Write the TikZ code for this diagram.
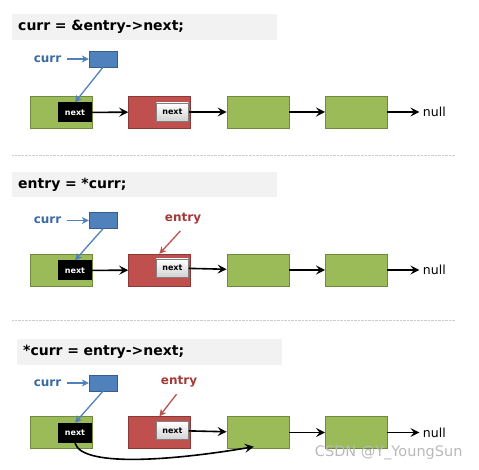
\documentclass[tikz,border=0pt]{standalone}
\usepackage{fontspec}
\setmainfont{DejaVu Sans}
\usetikzlibrary{positioning, arrows.meta}

\definecolor{cellgreen}{HTML}{9BBB59}
\definecolor{greenline}{HTML}{71893F}
\definecolor{cellred}{HTML}{C0504D}
\definecolor{redline}{HTML}{8C3836}
\definecolor{ptrblue}{HTML}{4F81BD}
\definecolor{blueline}{HTML}{385D8A}
\definecolor{currblue}{HTML}{3A6AA6}
\definecolor{entryred}{HTML}{A23A37}
\definecolor{titlegray}{HTML}{F2F2F2}

\begin{document}
\begin{tikzpicture}[
    x=1pt, y=-1pt,
    node distance=36pt,
    codeline/.style={fill=titlegray, anchor=west, minimum height=24pt, text width=253pt, inner sep=6pt, align=left, font=\bfseries\fontsize{14}{16}\selectfont},
    cell/.style={draw=greenline, fill=cellgreen, minimum width=62pt, minimum height=32pt, inner sep=0pt},
    redcell/.style={cell, draw=redline, fill=cellred},
    ptrbox/.style={draw=blueline, fill=ptrblue, minimum width=28pt, minimum height=16pt, inner sep=0pt},
    nextblack/.style={fill=black, text=white, anchor=east, minimum width=34pt, minimum height=20pt, inner sep=0pt, font=\bfseries\fontsize{8}{9}\selectfont},
    nextgray/.style={draw=gray, top color=white, bottom color=gray!35, anchor=east, minimum width=32pt, minimum height=18pt, inner sep=0pt, font=\bfseries\fontsize{8}{9}\selectfont},
    varname/.style={font=\bfseries\fontsize{12}{14}\selectfont},
    nullword/.style={font=\fontsize{12.5}{14}\selectfont, anchor=west},
    link/.style={-{Stealth[length=9pt, width=9pt, inset=3.5pt]}, line width=1.6pt, black},
    ptrarrow/.style={-{Stealth[length=7pt, width=7pt]}, line width=1.3pt, ptrblue},
    entryarrow/.style={-{Stealth[length=7pt, width=7pt]}, line width=1.3pt, cellred},
    separator/.style={densely dotted, gray!40}
]
\useasboundingbox (0,0) rectangle (479,470);

% ---- step 1 ----
\node[codeline] (t1) at (12,27) {curr = \&entry->next;};

\node[ptrbox] (p1) at (103,59) {};
\node[varname, text=currblue, left=24pt of p1] (v1) {curr};

\node[cell] (a1) at (61,112) {};
\node[redcell, right=of a1] (a2) {};
\node[cell, right=of a2] (a3) {};
\node[cell, right=of a3] (a4) {};
\node[nullword, right=32pt of a4] (z1) {null};
\node[nextblack] (a1n) at ([yshift=-0.5pt]a1.east) {next};
\node[nextgray] (a2n) at ([xshift=-2pt]a2.east) {next};

\draw[ptrarrow, shorten <=2pt] (v1) -- (p1);
\draw[ptrarrow] (p1.south) -- (a1n.north);
\draw[link] (a1n) -- (a2);
\draw[link] (a2n) -- (a3);
\draw[link] (a3) -- (a4);
\draw[link] (a4) -- (z1);

\coordinate (s1a) at (12,155);
\coordinate (s1b) at (455,155);
\draw[separator] (s1a) -- (s1b);

% ---- step 2 ----
\node[codeline] (t2) at (12,184.5) {entry = *curr;};

\node[ptrbox] (p2) at (103,220.5) {};
\node[varname, text=currblue, left=24pt of p2] (v2) {curr};
\node[varname, text=entryred] (e2) at (183,219) {entry};

\node[cell] (b1) at (61,270) {};
\node[redcell, right=of b1] (b2) {};
\node[cell, right=of b2] (b3) {};
\node[cell, right=of b3] (b4) {};
\node[nullword, right=32pt of b4] (z2) {null};
\node[nextblack] (b1n) at ([yshift=-0.5pt]b1.east) {next};
\node[nextgray] (b2n) at ([xshift=-2pt, yshift=2pt]b2.east) {next};

\draw[ptrarrow, shorten <=2pt] (v2) -- (p2);
\draw[ptrarrow] (p2.south) -- (b1n.north);
\draw[entryarrow, shorten <=4pt] (e2.south) -- (b2.north);
\draw[link] (b1n) -- (b2);
\draw[link] (b2n) -- (b3);
\draw[link] (b3) -- (b4);
\draw[link] (b4) -- (z2);

\coordinate (s2a) at (12,320);
\coordinate (s2b) at (455,320);
\draw[separator] (s2a) -- (s2b);

% ---- step 3 ----
\node[codeline] (t3) at (17,352) {*curr = entry->next;};

\node[ptrbox] (p3) at (103,383) {};
\node[varname, text=currblue, left=24pt of p3] (v3) {curr};
\node[varname, text=entryred] (e3) at (179,382) {entry};

\node[cell] (c1) at (61,432.5) {};
\node[redcell, right=of c1] (c2) {};
\node[cell, right=of c2] (c3) {};
\node[cell, right=of c3] (c4) {};
\node[nullword, right=32pt of c4] (z3) {null};
\node[nextblack] (c1n) at ([yshift=-0.5pt]c1.east) {next};
\node[nextgray] (c2n) at ([xshift=-2pt, yshift=2pt]c2.east) {next};

\draw[ptrarrow, shorten <=2pt] (v3) -- (p3);
\draw[ptrarrow] (p3.south) -- (c1n.north);
\draw[entryarrow, shorten <=4pt] (e3.south) -- (c2.north);
\draw[link] (c2n) -- (c3);
\draw[link] (c3) -- (c4);
\draw[link] (c4) -- (z3);
\draw[link] (c1n.south) .. controls +(8,26) and +(-70,12) .. ([xshift=-4pt, yshift=2pt]c3.south);

\node[text=gray!55, font=\fontsize{14.5}{16}\selectfont, anchor=east] (wm) at (466,453) {CSDN @Y\textunderscore YoungSun};
\end{tikzpicture}
\end{document}
